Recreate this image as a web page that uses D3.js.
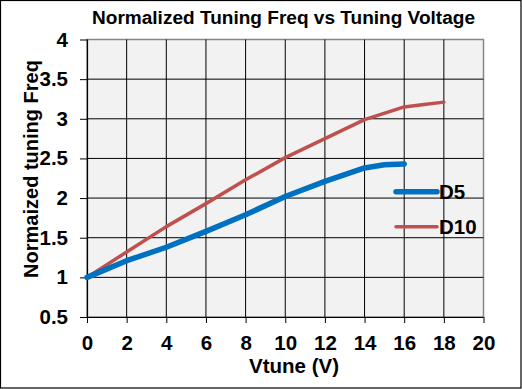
<!DOCTYPE html>
<html><head><meta charset="utf-8">
<script src="https://cdn.jsdelivr.net/npm/d3@7"></script>
<style>body{margin:0;background:#fff}svg{display:block}text{font-family:"Liberation Sans",Arial,sans-serif;font-weight:bold;fill:#000}</style>
</head><body>
<script>
const title = "Normalized Tuning Freq vs Tuning Voltage";
const xLabel = "Vtune (V)";
const yLabel = "Normaized tuning Freq";
const xTicks = [0,2,4,6,8,10,12,14,16,18,20];
const yTicks = [0.5,1,1.5,2,2.5,3,3.5,4];
const d5X = [0,2,4,6,8,10,12,14,15,16];
const d5Y = [1.0,1.21,1.38,1.58,1.79,2.02,2.21,2.38,2.42,2.43];
const d10X = [0,2,4,6,8,10,12,14,16,17,18];
const d10Y = [1.0,1.32,1.64,1.93,2.23,2.51,2.75,2.99,3.15,3.18,3.21];
const seriesNames = ["D5","D10"];
const seriesColors = ["#0070c0","#c0504d"];

const W=522,H=389;
const svg=d3.select("body").append("svg").attr("width",W).attr("height",H);
svg.append("rect").attr("x",0.5).attr("y",0.5).attr("width",W-1.5).attr("height",H-1.5).attr("fill","#fff").attr("stroke","#000").attr("stroke-width",1.2);
const L=87,R=483.5,T=39.5,B=317;
const x=d3.scaleLinear().domain([0,20]).range([L,R]);
const y=d3.scaleLinear().domain([0.5,4]).range([B,T]);
svg.append("rect").attr("x",L).attr("y",T).attr("width",R-L).attr("height",B-T).attr("fill","#f2f2f2").attr("stroke","#868686").attr("stroke-width",1.5);
// grid
svg.append("g").selectAll("line").data(xTicks.slice(1,-1)).join("line")
 .attr("x1",d=>x(d)).attr("x2",d=>x(d)).attr("y1",T).attr("y2",B).attr("stroke","#000").attr("stroke-width",1);
svg.append("g").selectAll("line").data(yTicks.slice(1,-1)).join("line")
 .attr("x1",L).attr("x2",R).attr("y1",d=>y(d)).attr("y2",d=>y(d)).attr("stroke","#000").attr("stroke-width",1);
// axes
const xa=svg.append("g").attr("transform",`translate(0,${B})`).call(d3.axisBottom(x).tickValues(xTicks).tickSize(6).tickPadding(12));
const ya=svg.append("g").attr("transform",`translate(${L},0)`).call(d3.axisLeft(y).tickValues(yTicks).tickSize(7).tickPadding(12).tickFormat(d3.format("")));
[xa,ya].forEach(a=>{a.selectAll("path").attr("stroke","#000").attr("stroke-width",1.2);a.selectAll("line").attr("stroke","#000");a.selectAll("text").attr("font-size",20.5).attr("font-family","Liberation Sans, Arial, sans-serif").attr("font-weight","bold").attr("fill","#000");});
ya.select("path").attr("d",`M0.5,${T}V${B}`);
xa.select("path").attr("d",`M${L},0.5H${R}`);
// lines
const line=d3.line().x(d=>x(d[0])).y(d=>y(d[1]));
svg.append("path").datum(d10X.map((v,i)=>[v,d10Y[i]])).attr("d",line).attr("fill","none").attr("stroke",seriesColors[1]).attr("stroke-width",3.5).attr("stroke-linejoin","round").attr("stroke-linecap","round");
svg.append("path").datum(d5X.map((v,i)=>[v,d5Y[i]])).attr("d",line).attr("fill","none").attr("stroke",seriesColors[0]).attr("stroke-width",5.5).attr("stroke-linejoin","round").attr("stroke-linecap","round");
// legend
const lg=[{n:seriesNames[0],c:seriesColors[0],w:5.5,y:191.7},{n:seriesNames[1],c:seriesColors[1],w:3.5,y:226.7}];
lg.forEach(d=>{
 svg.append("line").attr("x1",396).attr("x2",437).attr("y1",d.y).attr("y2",d.y).attr("stroke",d.c).attr("stroke-width",d.w).attr("stroke-linecap","round");
 svg.append("text").attr("x",439).attr("y",d.y+7.5).attr("font-size",20.5).text(d.n);
});
svg.append("text").attr("x",283.5).attr("y",24).attr("text-anchor","middle").attr("font-size",17.5).attr("textLength",383).attr("lengthAdjust","spacingAndGlyphs").text(title);
svg.append("text").attr("x",294).attr("y",373).attr("text-anchor","middle").attr("font-size",20.5).text(xLabel);
svg.append("text").attr("transform","translate(37.5,169) rotate(-90)").attr("text-anchor","middle").attr("font-size",20).text(yLabel);
</script>
</body></html>
